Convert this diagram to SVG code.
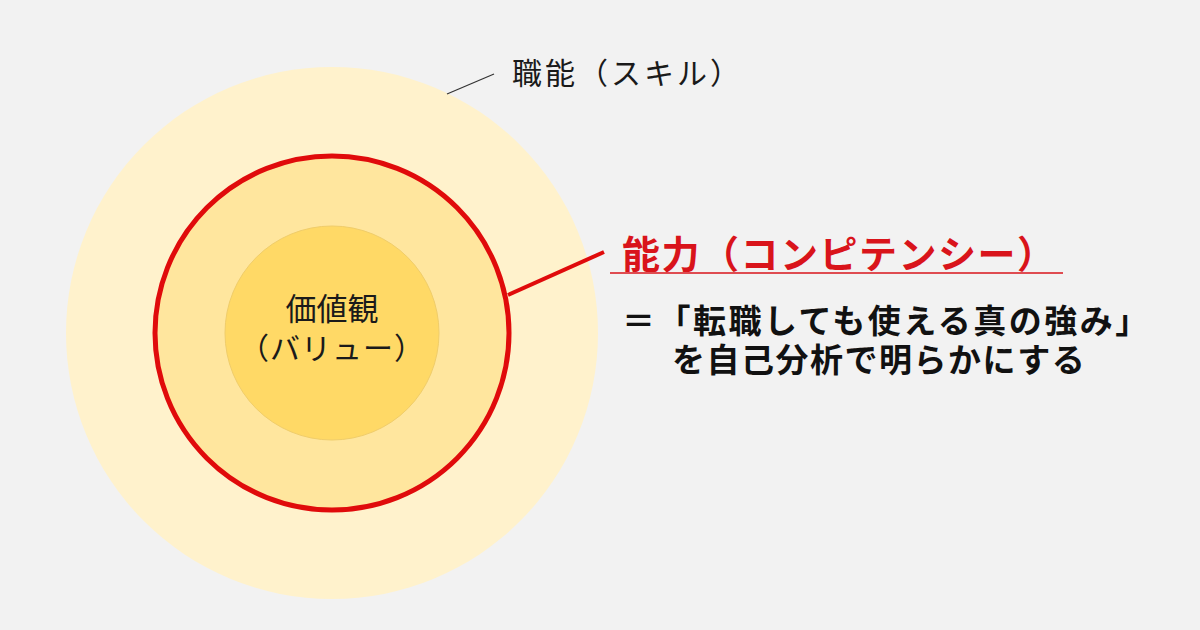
<svg xmlns="http://www.w3.org/2000/svg" width="1200" height="630" viewBox="0 0 1200 630">
<style>
.jp{font-family:"Noto Sans CJK JP","Noto Sans CJK SC",sans-serif;}
.thin{font-weight:400;fill:#1a1a1a;}
.bold{font-weight:700;fill:#111;}
.red{font-weight:700;fill:#d9141b;}
</style>
<rect width="1200" height="630" fill="#f2f2f2"/>
<g id="skill">
<circle cx="332" cy="333" r="266" fill="#fff2cc"/>
<text class="jp thin" x="512" y="84" font-size="30" letter-spacing="3">職能（スキル）</text>
</g>
<g id="competency">
<circle cx="332" cy="333" r="177" fill="#ffe69e" stroke="#e00b0b" stroke-width="5"/>
<text class="jp red" x="622" y="268" font-size="38" letter-spacing="1.5">能力（コンピテンシー）</text>
<text class="jp bold" x="622" y="333" font-size="33" letter-spacing="2.5">＝「転職しても使える真の強み」</text>
<text class="jp bold" x="672" y="372" font-size="33" letter-spacing="1.5">を自己分析で明らかにする</text>
</g>
<g id="value">
<circle cx="332" cy="333" r="107" fill="#ffd966" stroke="#f0cd6a" stroke-width="1"/>
<text class="jp thin" x="332" y="320" font-size="31" text-anchor="middle">価値観</text>
<text class="jp thin" x="332" y="359" font-size="30" text-anchor="middle" letter-spacing="1">（バリュー）</text>
</g>
<g id="connectors">
<line x1="447" y1="94" x2="494" y2="74" stroke="#333" stroke-width="1.2"/>
<line x1="508" y1="295" x2="604" y2="252" stroke="#e00b0b" stroke-width="4"/>
<line x1="610" y1="273" x2="1063" y2="273" stroke="#d9141b" stroke-width="1.5"/>
</g>
</svg>
